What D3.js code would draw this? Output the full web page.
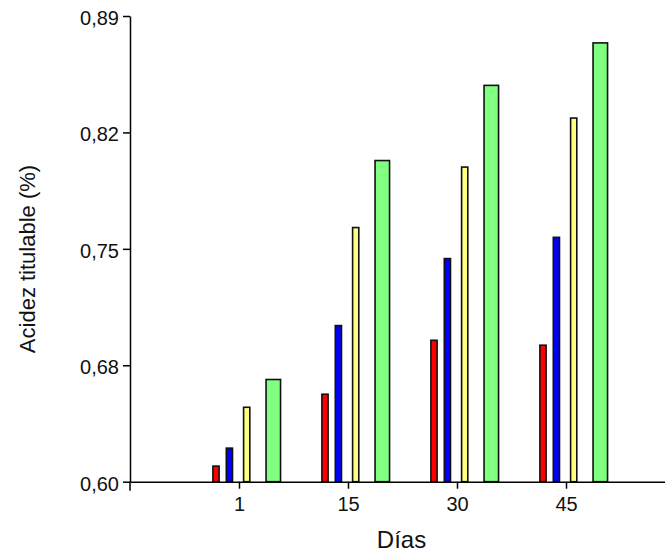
<!DOCTYPE html>
<html>
<head>
<meta charset="utf-8">
<script src="https://cdn.jsdelivr.net/npm/d3@7/dist/d3.min.js"></script>
<style>
  body { margin: 0; background: #fff; }
  svg { display: block; font-family: "Liberation Sans", Arial, sans-serif; }
</style>
</head>
<body>
<svg id="chart"></svg>
<script>
// data
var days = ["1", "15", "30", "45"];
var redValues = [0.615, 0.659, 0.692, 0.689];
var blueValues = [0.626, 0.701, 0.742, 0.755];
var yellowValues = [0.651, 0.761, 0.798, 0.828];
var greenValues = [0.668, 0.802, 0.848, 0.874];
var yTickValues = [0.605, 0.67625, 0.7475, 0.81875, 0.89];
var yTickLabels = ["0,60", "0,68", "0,75", "0,82", "0,89"];

var width = 665;
var height = 552;

// look of each series: fill, shift from the day tick, bar width
var series = [
  { values: redValues, color: "#ff0000", shift: -23, w: 6.2 },
  { values: blueValues, color: "#0000ff", shift: -9.6, w: 6.2 },
  { values: yellowValues, color: "#ffff80", shift: 7.7, w: 6.2 },
  { values: greenValues, color: "#80ff80", shift: 34.3, w: 14.5 }
];

var svg = d3.select("#chart")
  .attr("width", width)
  .attr("height", height);

var x = d3.scalePoint()
  .domain(days)
  .range([130, 675])
  .padding(1);

var y = d3.scaleLinear()
  .domain([yTickValues[0], yTickValues[yTickValues.length - 1]])
  .range([481.7, 16]);

// bars
series.forEach(function (s) {
  svg.append("g")
    .selectAll("rect")
    .data(s.values)
    .enter()
    .append("rect")
    .attr("x", (d, i) => x(days[i]) + s.shift - s.w / 2)
    .attr("y", d => y(d) + 0.75)
    .attr("width", s.w)
    .attr("height", d => y.range()[0] - y(d) - 0.75)
    .attr("fill", s.color)
    .attr("stroke", "#111")
    .attr("stroke-width", 1.6);
});

// y axis
var yAxis = svg.append("g")
  .attr("transform", "translate(130,0)")
  .call(d3.axisLeft(y)
    .tickValues(yTickValues)
    .tickFormat((d, i) => yTickLabels[i])
    .tickSize(7)
    .tickSizeOuter(0)
    .tickPadding(4));

// x axis
var xAxis = svg.append("g")
  .attr("transform", "translate(0," + y.range()[0] + ")")
  .call(d3.axisBottom(x)
    .tickSize(7)
    .tickSizeOuter(0)
    .tickPadding(8));

[yAxis, xAxis].forEach(function (g) {
  g.selectAll("path, line").attr("stroke", "#000").attr("stroke-width", 1.5);
  g.selectAll("text").attr("fill", "#111").style("font-size", "20px")
    .style("font-family", "'Liberation Sans', Arial, sans-serif");
});
yAxis.selectAll("text").attr("dy", "0.42em");

// y axis runs a little under the x axis
svg.append("line")
  .attr("x1", 130).attr("x2", 130)
  .attr("y1", y.range()[0]).attr("y2", y.range()[0] + 9)
  .attr("stroke", "#000")
  .attr("stroke-width", 1.5);

// titles
svg.append("text")
  .attr("x", 401.5)
  .attr("y", 547.5)
  .attr("text-anchor", "middle")
  .attr("fill", "#111")
  .style("font-size", "24px")
  .text("Días");

svg.append("text")
  .attr("transform", "translate(35,259) rotate(-90)")
  .attr("text-anchor", "middle")
  .attr("fill", "#111")
  .style("font-size", "22px")
  .text("Acidez titulable (%)");
</script>
</body>
</html>
